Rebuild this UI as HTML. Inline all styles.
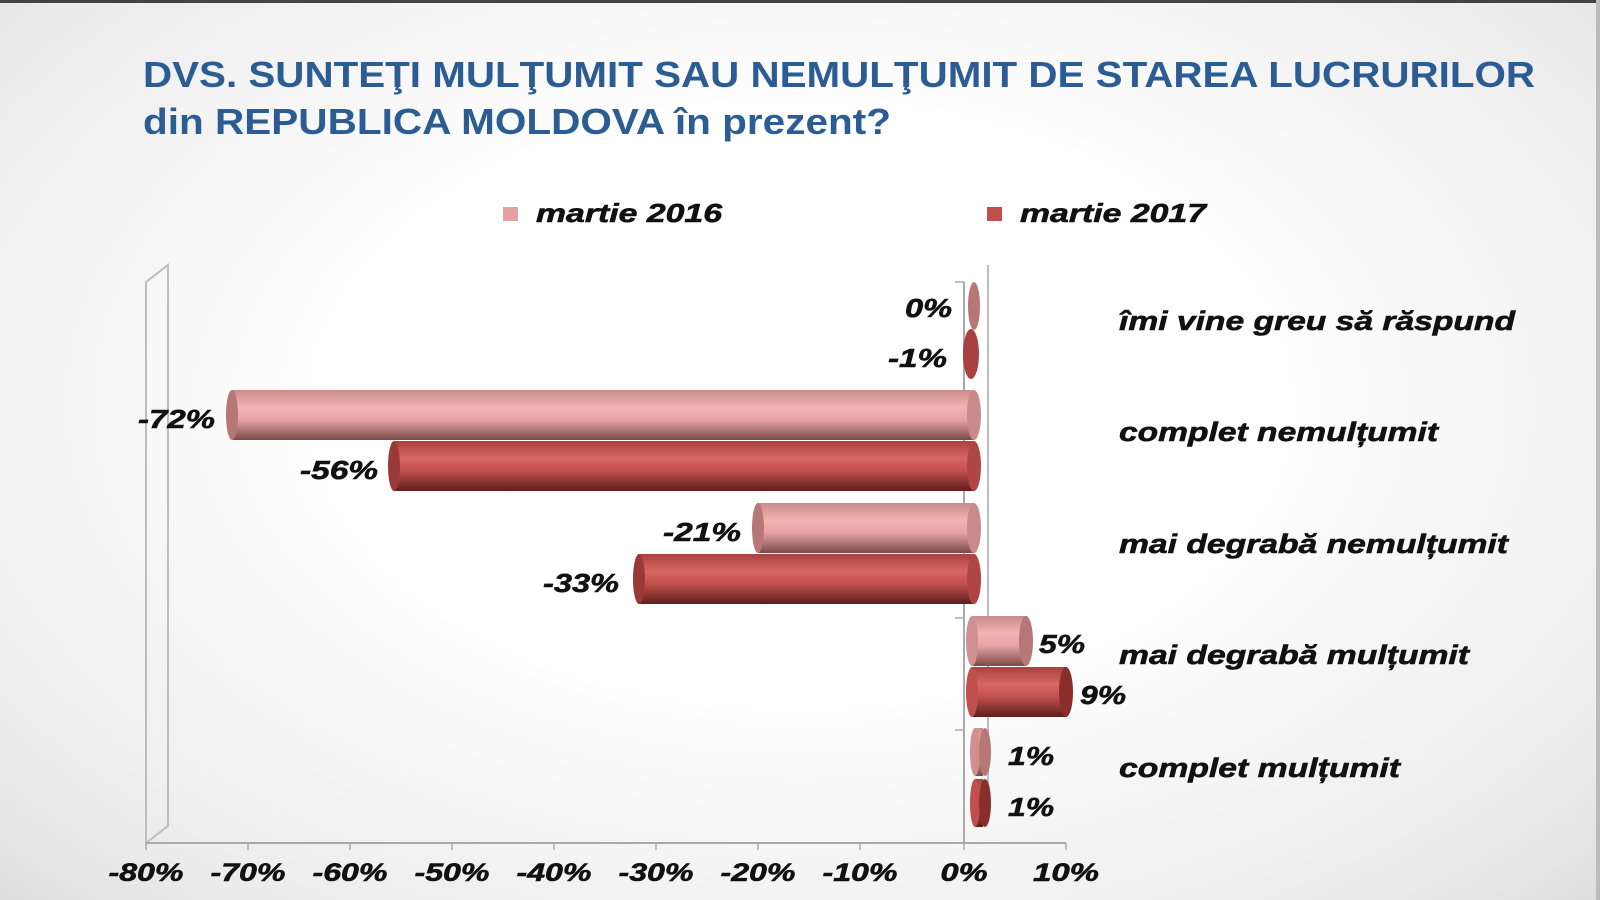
<!DOCTYPE html>
<html><head><meta charset="utf-8"><style>
html,body{margin:0;padding:0;width:1600px;height:900px;overflow:hidden}
body{background:radial-gradient(ellipse at 50% 45%,#ffffff 40%,#ececec 85%,#dedede 100%)}
svg{position:absolute;left:0;top:0}
text{font-family:"Liberation Sans",sans-serif}
</style></head><body>
<svg width="1600" height="900" viewBox="0 0 1600 900">
<defs>
<linearGradient id="p" x1="0" y1="0" x2="0" y2="1">
<stop offset="0" stop-color="#c98a8a"/><stop offset="0.35" stop-color="#f4b4b4"/><stop offset="0.6" stop-color="#e6a2a2"/><stop offset="1" stop-color="#7a4a4a"/></linearGradient>
<linearGradient id="r" x1="0" y1="0" x2="0" y2="1">
<stop offset="0" stop-color="#a84240"/><stop offset="0.35" stop-color="#d96663"/><stop offset="0.6" stop-color="#c0504d"/><stop offset="1" stop-color="#5e1e1c"/></linearGradient>
</defs>
<rect x="0" y="0" width="1600" height="3" fill="#444"/>
<rect x="1596" y="0" width="4" height="900" fill="#bbb"/>
<text x="143" y="87" font-size="36" font-weight="bold" fill="#2c5c94" textLength="1392" lengthAdjust="spacingAndGlyphs">DVS. SUNTEŢI MULŢUMIT SAU NEMULŢUMIT DE STAREA LUCRURILOR</text>
<text x="143" y="134" font-size="36" font-weight="bold" fill="#2c5c94" textLength="748" lengthAdjust="spacingAndGlyphs">din REPUBLICA MOLDOVA în prezent?</text>
<g font-size="26" font-weight="bold" font-style="italic" fill="#111" stroke="#111" stroke-width="0.6" lengthAdjust="spacingAndGlyphs">
<rect x="503" y="207" width="15" height="14" fill="#e6a2a2" stroke="none"/>
<text x="536" y="222" textLength="186" lengthAdjust="spacingAndGlyphs">martie 2016</text>
<rect x="987" y="207" width="15" height="14" fill="#c0504d" stroke="none"/>
<text x="1020" y="222" textLength="186" lengthAdjust="spacingAndGlyphs">martie 2017</text>
</g>
<g stroke="#bdbdbd" stroke-width="2" fill="none">
<path d="M146 843 L146 282 L168 265 L168 826 Z"/>
<line x1="988" y1="265" x2="988" y2="820"/>
<line x1="146" y1="843" x2="1066" y2="843" stroke="#aaa"/>
<line x1="964" y1="282" x2="964" y2="843" stroke="#aaa"/>
</g>
<g stroke="#aaa" stroke-width="1.5">
<line x1="955" y1="282" x2="964" y2="282"/><line x1="955" y1="394" x2="964" y2="394"/><line x1="955" y1="506" x2="964" y2="506"/><line x1="955" y1="618" x2="964" y2="618"/><line x1="955" y1="730" x2="964" y2="730"/>
<line x1="146" y1="843" x2="146" y2="850"/><line x1="248" y1="843" x2="248" y2="850"/><line x1="350" y1="843" x2="350" y2="850"/><line x1="452" y1="843" x2="452" y2="850"/><line x1="554" y1="843" x2="554" y2="850"/><line x1="656" y1="843" x2="656" y2="850"/><line x1="758" y1="843" x2="758" y2="850"/><line x1="860" y1="843" x2="860" y2="850"/><line x1="964" y1="843" x2="964" y2="850"/><line x1="1066" y1="843" x2="1066" y2="850"/>
</g>
<g>
<rect x="232" y="390" width="742" height="50" fill="url(#p)"/><ellipse cx="232" cy="415" rx="6" ry="25" fill="#b87777"/><ellipse cx="974" cy="415" rx="7" ry="25" fill="#c98a8a"/>
<rect x="394" y="441" width="580" height="50" fill="url(#r)"/><ellipse cx="394" cy="466" rx="6" ry="25" fill="#9a3a38"/><ellipse cx="974" cy="466" rx="7" ry="25" fill="#b04644"/>
<rect x="758" y="503" width="216" height="50" fill="url(#p)"/><ellipse cx="758" cy="528" rx="6" ry="25" fill="#b87777"/><ellipse cx="974" cy="528" rx="7" ry="25" fill="#c98a8a"/>
<rect x="639" y="554" width="335" height="50" fill="url(#r)"/><ellipse cx="639" cy="579" rx="6" ry="25" fill="#9a3a38"/><ellipse cx="974" cy="579" rx="7" ry="25" fill="#b04644"/>
<ellipse cx="974" cy="306" rx="6" ry="24" fill="#b87777"/>
<ellipse cx="971" cy="354" rx="8" ry="25" fill="#a84240"/>
<rect x="972" y="616" width="54" height="50" fill="url(#p)"/><ellipse cx="972" cy="641" rx="6" ry="25" fill="#d09090"/><ellipse cx="1026" cy="641" rx="7" ry="25" fill="#b87777"/>
<rect x="972" y="667" width="94" height="50" fill="url(#r)"/><ellipse cx="972" cy="692" rx="6" ry="25" fill="#c0504d"/><ellipse cx="1066" cy="692" rx="7" ry="25" fill="#8a2e2c"/>
<rect x="975" y="728" width="8" height="48" fill="url(#p)"/><ellipse cx="975" cy="752" rx="5" ry="24" fill="#d09090"/><ellipse cx="985" cy="752" rx="6" ry="24" fill="#b87777"/>
<rect x="975" y="779" width="8" height="48" fill="url(#r)"/><ellipse cx="975" cy="803" rx="5" ry="24" fill="#c0504d"/><ellipse cx="985" cy="803" rx="6" ry="24" fill="#8a2e2c"/>
</g>
<g font-size="26" font-weight="bold" font-style="italic" fill="#111" stroke="#111" stroke-width="0.6">
<text x="905" y="317" textLength="47" lengthAdjust="spacingAndGlyphs">0%</text>
<text x="888" y="367" textLength="59" lengthAdjust="spacingAndGlyphs">-1%</text>
<text x="138" y="428" textLength="77" lengthAdjust="spacingAndGlyphs">-72%</text>
<text x="300" y="479" textLength="78" lengthAdjust="spacingAndGlyphs">-56%</text>
<text x="663" y="541" textLength="78" lengthAdjust="spacingAndGlyphs">-21%</text>
<text x="543" y="592" textLength="76" lengthAdjust="spacingAndGlyphs">-33%</text>
<text x="1039" y="653" textLength="46" lengthAdjust="spacingAndGlyphs">5%</text>
<text x="1080" y="704" textLength="46" lengthAdjust="spacingAndGlyphs">9%</text>
<text x="1008" y="765" textLength="46" lengthAdjust="spacingAndGlyphs">1%</text>
<text x="1008" y="816" textLength="46" lengthAdjust="spacingAndGlyphs">1%</text>
</g>
<g font-size="27" font-weight="bold" font-style="italic" fill="#111" stroke="#111" stroke-width="0.6">
<text x="1119" y="330" textLength="396" lengthAdjust="spacingAndGlyphs">îmi vine greu să răspund</text>
<text x="1119" y="441" textLength="319" lengthAdjust="spacingAndGlyphs">complet nemulțumit</text>
<text x="1119" y="553" textLength="389" lengthAdjust="spacingAndGlyphs">mai degrabă nemulțumit</text>
<text x="1119" y="664" textLength="350" lengthAdjust="spacingAndGlyphs">mai degrabă mulțumit</text>
<text x="1119" y="777" textLength="281" lengthAdjust="spacingAndGlyphs">complet mulțumit</text>
</g>
<g font-size="25" font-weight="bold" font-style="italic" fill="#111" stroke="#111" stroke-width="0.6" text-anchor="middle">
<text x="146" y="881" textLength="75" lengthAdjust="spacingAndGlyphs">-80%</text><text x="248" y="881" textLength="75" lengthAdjust="spacingAndGlyphs">-70%</text><text x="350" y="881" textLength="75" lengthAdjust="spacingAndGlyphs">-60%</text><text x="452" y="881" textLength="75" lengthAdjust="spacingAndGlyphs">-50%</text><text x="554" y="881" textLength="75" lengthAdjust="spacingAndGlyphs">-40%</text><text x="656" y="881" textLength="75" lengthAdjust="spacingAndGlyphs">-30%</text><text x="758" y="881" textLength="75" lengthAdjust="spacingAndGlyphs">-20%</text><text x="860" y="881" textLength="75" lengthAdjust="spacingAndGlyphs">-10%</text><text x="964" y="881" textLength="47" lengthAdjust="spacingAndGlyphs">0%</text><text x="1066" y="881" textLength="66" lengthAdjust="spacingAndGlyphs">10%</text>
</g>
</svg>
</body></html>
